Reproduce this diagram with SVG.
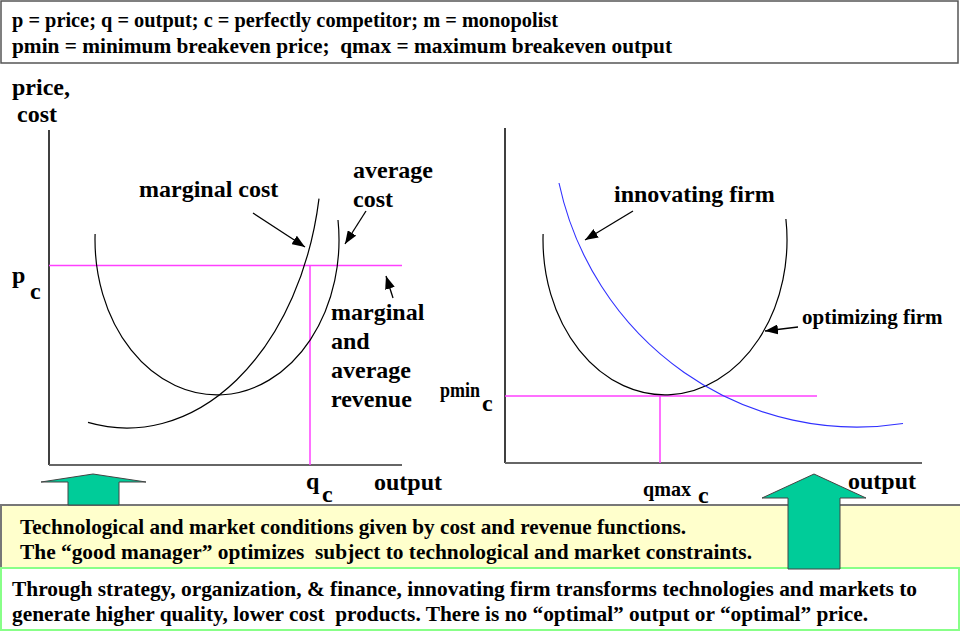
<svg xmlns="http://www.w3.org/2000/svg" width="960" height="631" viewBox="0 0 960 631" font-family="'Liberation Serif', 'DejaVu Serif', 'Times New Roman', serif">
<style>
text{font-family:'Liberation Serif','DejaVu Serif','Times New Roman',serif;font-weight:bold;fill:#000}
.t20{font-size:20px}
.t22{font-size:22px}
.t24{font-size:24px}
.axis{stroke:#000;stroke-width:1.5;fill:none}
.xaxis{stroke:#666;stroke-width:2;fill:none}
.mag{stroke:#ff40ff;stroke-width:1.5;fill:none}
.curve{stroke:#000;stroke-width:1.2;fill:none}
.blue{stroke:#3030ff;stroke-width:1.1;fill:none}
.ptr{stroke:#000;stroke-width:1.3;fill:none;marker-end:url(#ah)}
.big{fill:#00cc99;stroke:#444;stroke-width:1}
</style>
<defs>
<marker id="ah" markerUnits="userSpaceOnUse" markerWidth="13" markerHeight="10" viewBox="0 0 13 10" refX="13" refY="5" orient="auto">
<path d="M0,0 L13,5 L0,10 z" fill="#000"/>
</marker>
</defs>
<rect width="960" height="631" fill="#fff"/>

<g id="legend">
<rect x="1" y="1" width="957" height="62" fill="#fff" stroke="#555" stroke-width="1.5"/>
<text style="font-size:21px" x="12" y="27" textLength="546" lengthAdjust="spacingAndGlyphs">p = price; q = output; c = perfectly competitor; m = monopolist</text>
<text style="font-size:21px" x="12" y="53" textLength="660" lengthAdjust="spacingAndGlyphs" xml:space="preserve">pmin = minimum breakeven price;  qmax = maximum breakeven output</text>
</g>

<g id="left-chart">
<line class="axis" x1="49" y1="130" x2="49" y2="465"/>
<line class="xaxis" x1="49" y1="465" x2="402" y2="465"/>
<line class="mag" x1="49" y1="265.5" x2="402" y2="265.5"/>
<line class="mag" x1="310" y1="265.5" x2="310" y2="465"/>
<path id="avg-cost" class="curve" d="M95.1,234 A122,155 0 1 0 338,220"/>
<path id="marg-cost" class="curve" d="M88,422.4 A195,278 0 0 0 319,198.6"/>
<text class="t24" x="12" y="95">price,</text>
<text class="t24" x="17" y="122">cost</text>
<text class="t24" x="12" y="283">p</text>
<text class="t24" x="30" y="299">c</text>
<text class="t24" x="306" y="489">q</text>
<text class="t24" x="322" y="502">c</text>
<text class="t24" x="374" y="490">output</text>
</g>

<g id="label-marginal-cost">
<text class="t24" x="139" y="197">marginal cost</text>
</g>
<g id="label-average-cost">
<text class="t24" x="353" y="178">average</text>
<text class="t24" x="353" y="207">cost</text>
</g>
<g id="label-revenue">
<text class="t24" x="331" y="320">marginal</text>
<text class="t24" x="331" y="349">and</text>
<text class="t24" x="331" y="378">average</text>
<text class="t24" x="331" y="407">revenue</text>
</g>

<g id="right-chart">
<line class="axis" x1="505" y1="128" x2="505" y2="463"/>
<line class="xaxis" x1="505" y1="463" x2="922" y2="463"/>
<line class="mag" x1="505" y1="396" x2="817" y2="396"/>
<line class="mag" x1="660" y1="396" x2="660" y2="463"/>
<path id="optimizing-curve" class="curve" d="M543.1,234 A122,155 0 1 0 785.9,219"/>
<path id="innovating-curve" class="blue" d="M559,183 A305,310 0 0 0 903,423.5"/>
<text style="font-size:20px" x="440" y="397" textLength="40" lengthAdjust="spacingAndGlyphs">pmin</text>
<text class="t24" x="482" y="411">c</text>
<text style="font-size:21px" x="643" y="496" textLength="48" lengthAdjust="spacingAndGlyphs">qmax</text>
<text class="t24" x="698" y="503">c</text>
<text class="t24" x="848" y="489">output</text>
</g>

<g id="label-innovating">
<text class="t24" x="614" y="202">innovating firm</text>
</g>
<g id="label-optimizing">
<text style="font-size:21px" x="802" y="324">optimizing firm</text>
</g>

<g id="box-given">
<rect x="1" y="505" width="962" height="63" fill="#ffffcc"/>
<line x1="0" y1="505" x2="960" y2="505" stroke="#777" stroke-width="2"/>
<line x1="1" y1="505" x2="1" y2="568" stroke="#777" stroke-width="2"/>
<text class="t22" x="20" y="534" textLength="666" lengthAdjust="spacingAndGlyphs">Technological and market conditions given by cost and revenue functions.</text>
<text class="t22" x="20" y="559" textLength="732" lengthAdjust="spacingAndGlyphs" xml:space="preserve">The “good manager” optimizes  subject to technological and market constraints.</text>
</g>

<g id="box-innovate">
<rect x="1" y="568" width="958" height="62" fill="#fff" stroke="#88ff88" stroke-width="2"/>
<text class="t22" x="12" y="596" textLength="905" lengthAdjust="spacingAndGlyphs">Through strategy, organization, &amp; finance, innovating firm transforms technologies and markets to</text>
<text class="t22" x="12" y="621" textLength="856" lengthAdjust="spacingAndGlyphs" xml:space="preserve">generate higher quality, lower cost  products. There is no “optimal” output or “optimal” price.</text>
</g>

<g id="arrow-left">
<polygon class="big" points="41,482 93,474 146,482 119,482 119,505 68,505 68,482"/>
</g>
<g id="arrow-right">
<polygon class="big" points="762,498 814,474 866,498 840,498 840,569 788,569 788,498"/>
</g>

<g id="connectors">
<line class="ptr" x1="253" y1="213" x2="305" y2="247"/>
<line class="ptr" x1="366" y1="211" x2="345" y2="244"/>
<line class="ptr" x1="393" y1="298" x2="386" y2="276"/>
<line class="ptr" x1="633" y1="211" x2="585" y2="240"/>
<line class="ptr" x1="798" y1="327" x2="765" y2="331"/>
</g>
</svg>
